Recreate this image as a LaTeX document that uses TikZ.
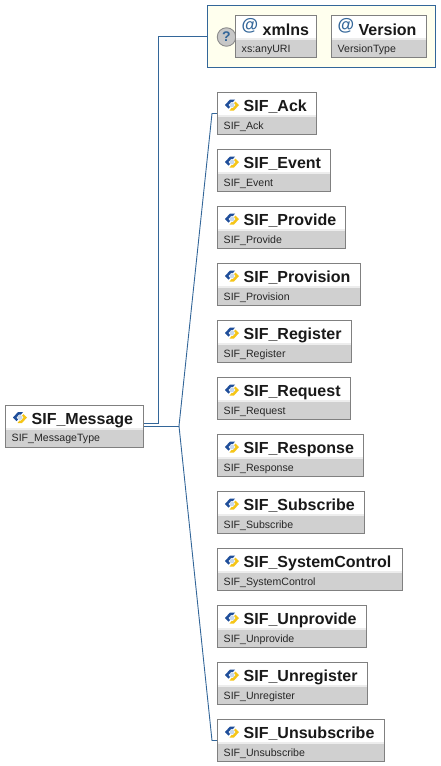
\documentclass[tikz,border=0pt]{standalone}
\usepackage{fontspec}
\setmainfont{Liberation Sans}
\definecolor{linkblue}{HTML}{336699}
\definecolor{boxedge}{HTML}{808080}
\definecolor{bandgray}{HTML}{D0D0D0}
\definecolor{bandlight}{HTML}{EDEDED}
\definecolor{attryellow}{HTML}{FFFFEE}
\definecolor{iconblue}{HTML}{1F4E9A}
\definecolor{iconyellow}{HTML}{F5C518}
\definecolor{iconcore}{HTML}{C8D8EC}
\tikzset{
  x=1pt,y=-1pt,
  elembox/.style={draw=boxedge,line width=1pt,fill=white,anchor=north west,minimum height=42pt,inner sep=0pt,outer sep=0pt},
  titletext/.style={anchor=base west,inner sep=0pt,font=\fontsize{16}{16}\selectfont\bfseries,text=black!90},
  subtext/.style={anchor=base west,inner sep=0pt,font=\fontsize{10.6}{11}\selectfont,text=black!85},
  conn/.style={draw=linkblue,line width=0.9pt},
  attrframe/.style={draw=linkblue,line width=1pt,fill=attryellow,anchor=north west,inner sep=0pt,outer sep=0pt},
  atsign/.style={anchor=base west,inner sep=0pt,font=\fontsize{17}{17}\selectfont\bfseries,text=linkblue},
  qmark/.style={circle,draw=black!45,fill=black!22,line width=0.9pt,minimum size=18.5pt,inner sep=0pt,font=\fontsize{14}{14}\selectfont\bfseries,text=linkblue},
}
\newcommand{\boxband}[1]{%
  \fill[bandgray] ([xshift=.5pt,yshift=-3.5pt]#1.west) rectangle ([xshift=-.5pt,yshift=.5pt]#1.south east);
  \fill[bandlight] ([xshift=.5pt,yshift=-1.5pt]#1.west) rectangle ([xshift=-.5pt,yshift=-3.5pt]#1.east);
}
\newcommand{\elemicon}[2]{% x, top of box
  \begin{scope}[shift={(#1+14.5,#2+12.5)}]
    \fill[iconyellow] (7,0) -- (2,5.5) -- (-2.5,5.5) -- (-0.5,3) -- (1,3) -- (3.5,0) -- (2,-2) -- (3.5,-3.5) -- cycle;
    \fill[iconblue] (-7,0) -- (-2,-5.5) -- (3,-5.5) -- (1,-3) -- (-1,-3) -- (-3.5,0) -- (-2,2) -- (-3.5,3.5) -- cycle;
    \fill[iconcore] (0,0) circle (2.4);
  \end{scope}
}
\newcommand{\element}[6]{%
  \node[elembox,minimum width=#4-#2 pt] (#1) at (#2,#3) {};
  \boxband{#1}
  \draw[boxedge,line width=1pt] (#1.north west) rectangle (#1.south east);
  \elemicon{#2}{#3}
  \node[titletext] (#1title) at (#2+26,#3+19) {#5};
  \node[subtext] (#1sub) at (#2+6,#3+36.5) {#6};
}
\newcommand{\attribute}[6]{%
  \node[elembox,minimum width=#4-#2 pt] (#1) at (#2,#3) {};
  \boxband{#1}
  \draw[boxedge,line width=1pt] (#1.north west) rectangle (#1.south east);
  \node[atsign] (#1at) at (#2+6,#3+15) {@};
  \node[titletext] (#1title) at (#2+27,#3+20) {#5};
  \node[subtext] (#1sub) at (#2+6,#3+37) {#6};
}
\begin{document}
\begin{tikzpicture}
\useasboundingbox (0,0) rectangle (440,766);
\fill[white] (0,0) rectangle (440,766);
\coordinate (hub) at (179,426);
\coordinate (seqport) at (143,423);
\coordinate (seqbend) at (158.5,423);
\node[attrframe,minimum width=228pt,minimum height=62pt] (attrs) at (207.5,5.5) {};
\node[elembox,minimum width=138pt,minimum height=42pt] (msg) at (5.5,405) {};
\node[elembox,minimum width=98.5pt] (ack) at (217.5,92.5) {};
\node[elembox,minimum width=167pt] (unsub) at (217.5,719.5) {};
\draw[conn] (seqport) -- (seqbend) |- (attrs.west);
\draw[conn] (msg.east) -- (hub);
\draw[conn] (hub) -- (212,0 |- ack.west) -- (ack.west);
\draw[conn] (hub) -- (212,0 |- unsub.west) -- (unsub.west);
\element{msg}{5.5}{405}{143}{SIF\_Message}{SIF\_MessageType}
\node[qmark] (q) at (226.5,37) {?};
\attribute{xmlns}{235.5}{15.5}{316}{xmlns}{xs:anyURI}
\attribute{version}{331.5}{15.5}{426}{Version}{VersionType}
\element{ack}{217.5}{92.5}{316}{SIF\_Ack}{SIF\_Ack}
\element{event}{217.5}{149.5}{330.5}{SIF\_Event}{SIF\_Event}
\element{provide}{217.5}{206.5}{345.5}{SIF\_Provide}{SIF\_Provide}
\element{provision}{217.5}{263.5}{360.5}{SIF\_Provision}{SIF\_Provision}
\element{register}{217.5}{320.5}{351.5}{SIF\_Register}{SIF\_Register}
\element{request}{217.5}{377.5}{350.5}{SIF\_Request}{SIF\_Request}
\element{response}{217.5}{434.5}{363.5}{SIF\_Response}{SIF\_Response}
\element{subscribe}{217.5}{491.5}{364.5}{SIF\_Subscribe}{SIF\_Subscribe}
\element{syscontrol}{217.5}{548.5}{402.5}{SIF\_SystemControl}{SIF\_SystemControl}
\element{unprovide}{217.5}{605.5}{366.5}{SIF\_Unprovide}{SIF\_Unprovide}
\element{unregister}{217.5}{662.5}{367.5}{SIF\_Unregister}{SIF\_Unregister}
\element{unsub}{217.5}{719.5}{384.5}{SIF\_Unsubscribe}{SIF\_Unsubscribe}
\end{tikzpicture}
\end{document}
